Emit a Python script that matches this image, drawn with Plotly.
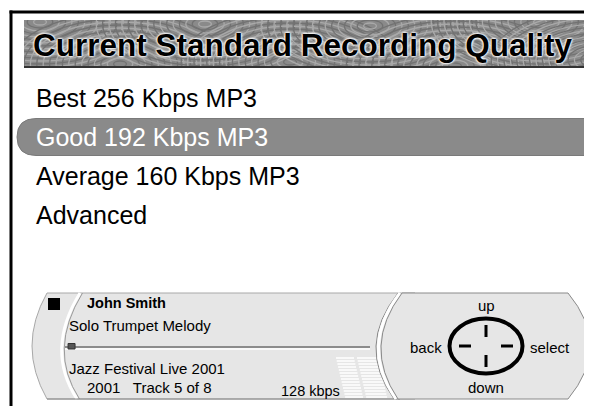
import plotly.graph_objects as go

# ---------------- data ----------------
title_text = "Current Standard Recording Quality"
menu_items = ["Best 256 Kbps MP3", "Good 192 Kbps MP3", "Average 160 Kbps MP3", "Advanced"]
selected_index = 1
artist = "John Smith"
track_title = "Solo Trumpet Melody"
album = "Jazz Festival Live 2001"
year = "2001"
track_no = 5
track_total = 8
bitrate_kbps = 128
progress = 0.01
nav_labels = ["up", "down", "back", "select"]

W, H = 592, 406
OFF = 8  # page body margin compensation
FONT = "Liberation Sans, Arial, Helvetica, sans-serif"

fig = go.Figure()
fig.add_trace(go.Scatter(x=[100], y=[100], mode="markers", marker=dict(opacity=0), hoverinfo="skip", showlegend=False))
fig.add_trace(go.Scatter(x=[30], y=[30], xaxis="x2", yaxis="y2", mode="markers", marker=dict(opacity=0), hoverinfo="skip", showlegend=False))

shapes = []
ann = []

# frame
shapes.append(dict(type="line", x0=9.5, x1=600, y0=12, y1=12, line=dict(color="black", width=3)))
shapes.append(dict(type="line", x0=11, x1=11, y0=10.5, y1=420, line=dict(color="black", width=3)))

# banner (own clipped subplot)
bx0, bx1, by0, by1 = 24, 590, 20, 68
shapes.append(dict(type="rect", xref="x2", yref="y2", x0=bx0, x1=bx1, y0=by0, y1=by1,
                   fillcolor="#8a8a8a", line=dict(width=0), layer="below"))
centers = [(40, 22), (120, 64), (205, 24), (290, 62), (370, 26), (455, 66), (540, 22), (600, 60)]
for i, (cx, cy) in enumerate(centers):
    for k, r in enumerate(range(4, 70, 4)):
        col = "#a9a9a9" if (k + i) % 2 == 0 else "#727272"
        shapes.append(dict(type="circle", xref="x2", yref="y2", x0=cx - r * 1.6, x1=cx + r * 1.6,
                           y0=cy - r * 0.75, y1=cy + r * 0.75, line=dict(color=col, width=1.3)))
shapes.append(dict(type="line", x0=bx0, x1=bx1, y0=67, y1=67, line=dict(color="#333", width=2)))
shapes.append(dict(type="line", x0=589, x1=589, y0=by0, y1=by1, line=dict(color="#333", width=2)))

ann.append(dict(x=31, y=45, text=title_text, showarrow=False, xanchor="left", yanchor="middle",
                font=dict(family="Liberation Sans, Arial, sans-serif",
                          size=31.5, color="black", weight="bold",
                          shadow="0px 0px 2px white, 0px 0px 2px white, 0px 0px 3px white, 0px 0px 3px white")))

# menu
menu_y = [98, 137, 176, 215]
for i, (txt, yy) in enumerate(zip(menu_items, menu_y)):
    if i == selected_index:
        shapes.append(dict(type="path",
                           path=f"M 36,{yy-18.5} L 600,{yy-18.5} L 600,{yy+18.5} L 36,{yy+18.5} "
                                f"Q 17,{yy+18.5} 17,{yy} Q 17,{yy-18.5} 36,{yy-18.5} Z",
                           fillcolor="#8a8a8a", line=dict(color="#7a7a7a", width=1)))
    ann.append(dict(x=34, y=yy, text=txt, showarrow=False, xanchor="left", yanchor="middle",
                    font=dict(family=FONT, size=25, color="white" if i == selected_index else "black")))

# bottom panel - left body
top, bot = 293, 399
shapes.append(dict(type="path", path=f"M 47,{top} L 415,{top} L 415,{bot} L 47,{bot} Q 17,346 47,{top} Z",
                   fillcolor="#e6e6e6", line=dict(color="#a8a8a8", width=1)))
shapes.append(dict(type="path", path=f"M 80,{top} Q 45,350 77,{bot}", line=dict(color="white", width=3)))
shapes.append(dict(type="path", path=f"M 82.5,{top} Q 47.5,350 79.5,{bot}", line=dict(color="#9a9a9a", width=1)))
shapes.append(dict(type="line", x0=47, x1=400, y0=bot, y1=bot, line=dict(color="#888", width=1)))

# stop square
shapes.append(dict(type="rect", x0=48, x1=60, y0=298, y1=310, fillcolor="black", line=dict(width=0)))

# signal stripes
for j in range(14):
    yy = 358 + j * 3
    off = j * 0.7
    shapes.append(dict(type="line", x0=336 + off, x1=354 + off, y0=yy, y1=yy, line=dict(color="white", width=1.5)))
    shapes.append(dict(type="line", x0=357 + off, x1=378 + off, y0=yy, y1=yy, line=dict(color="white", width=1.5)))

# progress bar
px0, px1 = 65, 370
shapes.append(dict(type="line", x0=px0, x1=px1, y0=349, y1=349, line=dict(color="white", width=1.5)))
shapes.append(dict(type="line", x0=px0, x1=px1, y0=347, y1=347, line=dict(color="#8c8c8c", width=2)))
kx = px0 + progress * (px1 - px0)
shapes.append(dict(type="rect", x0=kx, x1=kx + 7, y0=343.5, y1=349, fillcolor="#555", line=dict(color="#333", width=1)))

# right panel
shapes.append(dict(type="path", path=f"M 398,{top} Q 356,346 394,{bot}", line=dict(color="#888", width=1)))
shapes.append(dict(type="path", path=f"M 400,{top} Q 359,346 396,{bot}", line=dict(color="white", width=3)))
shapes.append(dict(type="path",
                   path=f"M 402,{top} L 568,{top} Q 612,346 568,{bot} L 398,{bot} Q 362,346 402,{top} Z",
                   fillcolor="#e6e6e6", line=dict(color="#8a8a8a", width=1)))

# nav pad
cx, cy = 486, 346
shapes.append(dict(type="circle", x0=cx - 36.5, x1=cx + 36.5, y0=cy - 27.5, y1=cy + 27.5,
                   line=dict(color="black", width=4)))
for (x0, y0, x1, y1) in [(cx, 325, cx, 337), (cx, 355, cx, 367), (459, cy, 471, cy), (501, cy, 513, cy)]:
    shapes.append(dict(type="line", x0=x0, x1=x1, y0=y0, y1=y1, line=dict(color="black", width=3)))

small = dict(family=FONT, size=15, color="black")
ann.append(dict(x=85, y=303, text=artist, showarrow=False, xanchor="left", yanchor="middle",
                font=dict(family=FONT, size=14.5, color="black", weight="bold")))
ann.append(dict(x=67, y=325, text=track_title, showarrow=False, xanchor="left", yanchor="middle", font=small))
ann.append(dict(x=67, y=368, text=album, showarrow=False, xanchor="left", yanchor="middle", font=small))
ann.append(dict(x=85, y=387, text=f"{year}&nbsp;&nbsp;&nbsp;Track {track_no} of {track_total}", showarrow=False,
                xanchor="left", yanchor="middle", font=small))
ann.append(dict(x=279, y=391, text=f"{bitrate_kbps} kbps", showarrow=False, xanchor="left", yanchor="middle",
                font=dict(family=FONT, size=14.5, color="black")))
nav_pos = {"up": (486, 305, "center"), "down": (486, 387, "center"), "back": (444, 347, "right"), "select": (528, 347, "left")}
for lab in nav_labels:
    x, y, xa = nav_pos[lab]
    ann.append(dict(x=x, y=y, text=lab, showarrow=False, xanchor=xa, yanchor="middle", font=small))

fig.update_layout(
    width=W, height=H, margin=dict(l=0, r=0, t=0, b=0),
    paper_bgcolor="white", plot_bgcolor="white", showlegend=False,
    xaxis=dict(range=[OFF, W + OFF], visible=False, fixedrange=True, domain=[0, 1]),
    yaxis=dict(range=[H + OFF, OFF], visible=False, fixedrange=True, domain=[0, 1]),
    xaxis2=dict(range=[bx0, bx1], visible=False, fixedrange=True,
                domain=[(bx0 - OFF) / W, (bx1 - OFF) / W], anchor="y2"),
    yaxis2=dict(range=[by1, by0], visible=False, fixedrange=True,
                domain=[1 - (by1 - OFF) / H, 1 - (by0 - OFF) / H], anchor="x2"),
    shapes=shapes, annotations=ann,
)
fig.write_html("out.html", config={"displayModeBar": False, "staticPlot": True})
